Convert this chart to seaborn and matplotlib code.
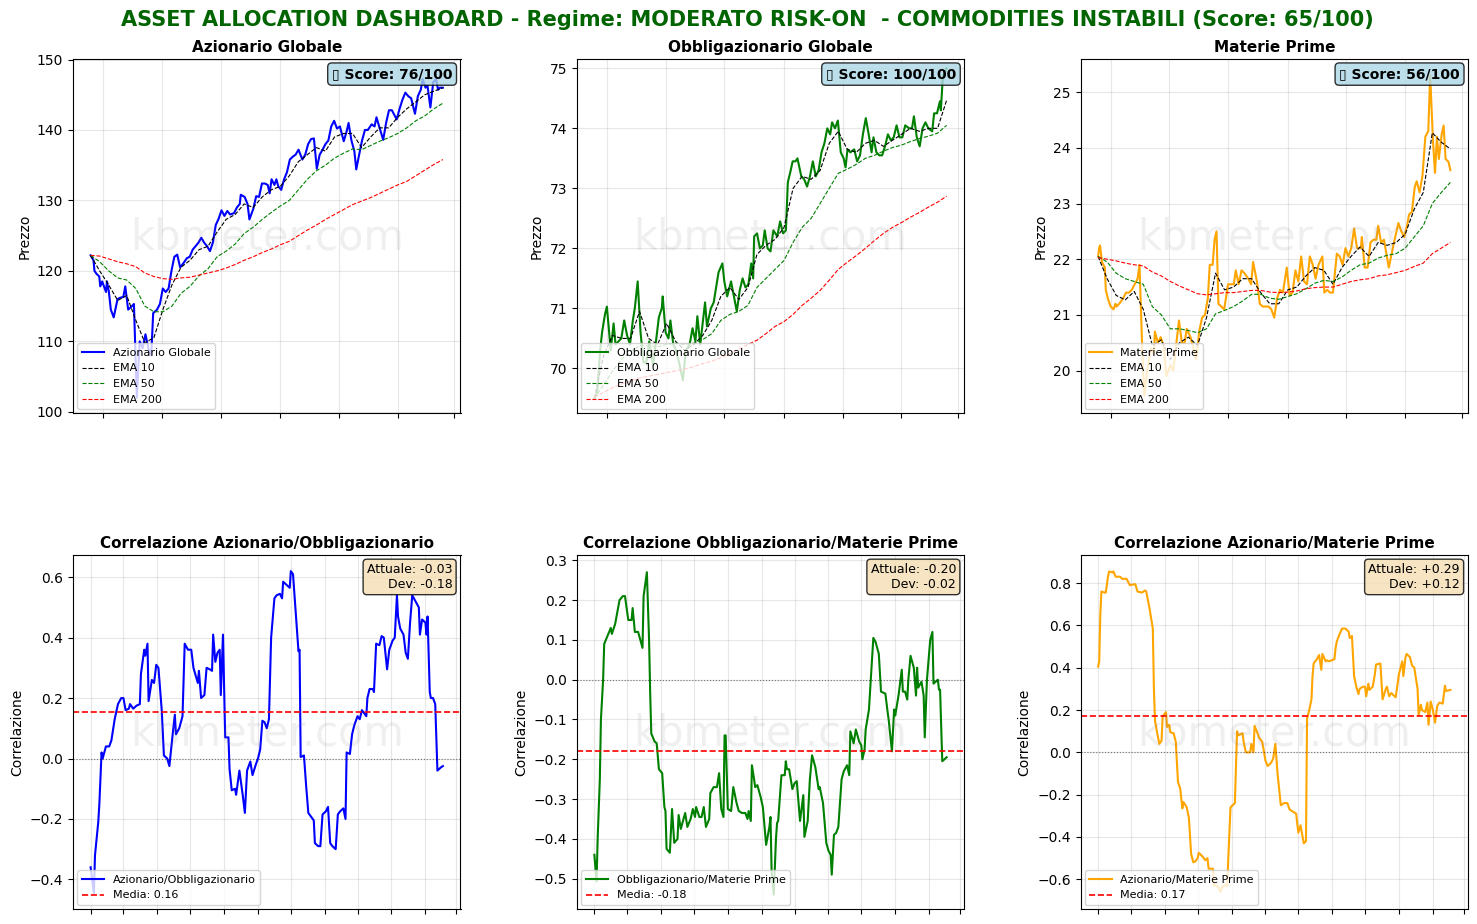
import pandas as pd
import matplotlib
matplotlib.use('Agg')
import matplotlib.pyplot as plt
import matplotlib.dates as mdates
import seaborn as sns

# ==========================================
# 1. DATA
# ==========================================
price_start = '2025-02-16'
price_end = '2026-02-17'
corr_start = '2025-04-01'

az_days = [0,3,4,6,9,10,12,16,17,19,21,24,28,31,34,36,39,43,45,48,51,54,57,60,63,65,69,72,75,78,81,84,87,90,93,96,100,103,106,109,112,115,118,121,124,127,130,133,136,139,142,145,149,152,155,156,160,163,165,169,172,175,178,181,184,186,188,191,193,195,198,201,204,207,210,213,216,220,223,226,229,232,235,238,241,244,247,250,253,256,259,263,266,268,271,274,276,279,282,285,288,292,295,297,300,304,307,310,313,318,321,324,327,330,333,337,340,343,345,348,350,353,356,359,361,363,366]
az_price = [122.2,121.5,120,119.6,119.2,117.8,118.5,117,118.5,117,114.5,113.4,116,116.2,116.3,117.8,114.5,115,115.3,102,110,109,111,109,108,114,114.5,115.3,117.5,117,117.5,120,122,122.3,120.5,121,121.8,122,123,123.5,124,124.7,124,123.5,122.8,124,126.5,127.4,128.6,127.8,128.5,128,128.2,129,129.5,130.8,130.5,129.5,127.3,128.8,130.6,130.5,132.4,132.4,132.2,131,133,132.2,133,132,131.5,133,134,135.8,136.2,136.5,137.2,135.8,136.5,138,138.7,138.8,134.5,136.5,137.2,138,138.5,140.5,141.3,140.2,140.5,138.4,139.8,141,138.5,137,134.4,136.5,138.5,140,140,140.8,140.5,141.8,140.4,138.6,141,142.8,142.8,141.5,143,144.3,145.3,144.8,144.5,142.3,144.8,145.7,147.2,146,146.3,143.2,146.8,147.2,145.7,146,146]
az_ema10 = [122.2,120,118,115.8,116.5,113,109.8,110.5,114.5,118,120.5,121.5,123,123.5,125.5,127.3,128,129.5,129,130.5,131.5,132,133.5,135.5,136.5,137.5,137,139,139.5,139.5,137.5,139,140.3,140.3,141.8,143,144,145,145.5,146]
az_ema50 = [122.2,121.3,120,119,118.7,117.5,115,114.2,114.2,115,116.8,117.8,119.3,120.3,122,122.8,123.8,125.3,126.2,127.3,128.3,129.2,130,131.5,133,134.2,135,136,136.7,137.3,137.2,137.8,138.4,138.9,139.5,140.3,141.3,142,143,143.8]
az_ema200 = [122.2,122.1,121.7,121.3,121,120.6,119.7,119.2,118.9,118.8,119,119.1,119.4,119.7,120,120.4,120.9,121.5,122,122.6,123.1,123.7,124.2,125,125.8,126.5,127.3,128,128.7,129.4,129.9,130.4,131,131.6,132.2,132.7,133.5,134.3,135.1,135.8]

ob_days = [0,3,6,8,11,13,17,20,22,25,28,31,34,37,40,42,45,48,51,54,57,61,64,67,70,71,74,77,79,82,85,88,92,95,99,102,105,107,110,115,117,121,124,127,129,133,135,138,142,145,148,151,154,157,160,163,165,166,169,172,175,177,180,183,186,190,193,196,199,201,204,206,209,211,215,218,221,224,227,230,233,236,239,242,245,247,250,253,256,259,261,263,266,270,273,276,279,282,285,288,290,293,296,299,302,305,308,311,314,317,320,323,327,330,332,335,338,341,344,347,351,353,356,359,360,362,366]
ob_price = [69.5,69.6,70.3,70.6,70.9,71.03,70.3,70.75,70.4,70.45,70.5,70.8,70.55,70.4,70.8,71,71.45,70.6,70.1,70.1,70.45,70.05,70.45,70.85,71,71.2,70.6,70.5,70.8,70.4,70.3,70.1,69.8,70.3,70.4,70.67,70.45,70.87,70.4,71.1,70.7,71,71.1,71.4,71.6,71.75,71.45,71.2,71.45,71.2,70.95,71.3,71.5,71.35,71.4,71.75,71.5,72.2,72.25,72,72.05,72.3,72,71.95,72.3,72.2,72.45,72.25,72.3,73.1,73.3,73.45,73.45,73.5,73.2,73.15,73.03,73.2,73.45,73.2,73.3,73.6,73.75,74,73.9,74.1,74,74.13,73.6,73.5,73.35,73.65,73.6,73.65,73.45,73.55,73.9,74.17,73.9,73.6,73.85,73.6,73.55,73.55,73.7,73.9,73.8,73.85,74.05,73.85,73.85,74.05,74,74,74.2,73.85,73.7,74,74.1,74,73.95,74.25,74.25,74.45,74.3,74.85,75]
ob_ema10 = [69.5,70.2,70.55,70.5,70.5,70.95,70.5,70.4,70.75,70.45,70.3,70.4,70.55,70.8,71.2,71.35,71.15,71.35,71.9,72.05,72.15,72.35,73,73.2,73.15,73.3,73.75,73.95,73.65,73.6,73.75,73.8,73.7,73.8,73.9,74,73.95,74,74,74.47]
ob_ema50 = [69.5,69.72,69.95,70.15,70.28,70.38,70.38,70.36,70.4,70.42,70.4,70.42,70.48,70.58,70.8,70.9,70.95,71.05,71.35,71.5,71.65,71.8,72.1,72.35,72.5,72.75,73.0,73.25,73.32,73.4,73.5,73.55,73.62,73.68,73.72,73.78,73.83,73.87,73.92,74.05]
ob_ema200 = [69.52,69.6,69.68,69.74,69.79,69.84,69.87,69.9,69.93,69.96,69.99,70.03,70.08,70.12,70.18,70.24,70.32,70.4,70.47,70.58,70.7,70.78,70.9,71.05,71.17,71.3,71.47,71.65,71.77,71.88,72.0,72.13,72.25,72.35,72.43,72.52,72.6,72.69,72.77,72.87]

mp_days = [0,1,2,4,7,8,10,13,16,18,19,22,26,29,32,35,38,41,43,46,48,51,55,58,59,62,65,68,71,75,78,81,84,87,90,92,96,99,102,105,108,111,114,116,119,121,123,125,128,131,135,138,141,143,146,149,152,156,159,161,165,168,171,174,177,180,183,186,189,192,196,199,202,205,208,211,214,217,220,223,226,229,233,235,238,241,244,248,251,254,257,260,263,266,269,273,274,277,280,283,286,289,291,294,297,300,302,305,308,312,315,318,321,323,326,329,331,334,337,340,343,345,348,350,352,354,357,359,361,364,366]
mp_price = [22.05,22.2,22.25,21.95,21.85,21.45,21.3,21.15,21.1,21.2,21.15,21.2,21.3,21.4,21.4,21.45,21.55,21.65,21.9,20.3,19.55,20,20.4,20.3,20.7,20.5,20.6,20.45,19.9,20.1,20,20.45,20.9,20.5,20.5,20.75,20.6,20.4,20.2,20.7,20.95,21,21.3,21.9,21.9,22.35,22.5,21.2,21.15,21.1,21.55,21.55,21.55,21.8,21.55,21.8,21.75,21.65,21.55,21.95,21.6,21.2,21.15,21.15,21.15,21.1,20.95,21.3,21.45,21.4,21.85,21.35,21.4,21.8,21.6,22.05,21.6,21.55,22.05,21.9,21.65,21.9,22.05,21.4,21.45,21.4,21.4,22.1,22.05,21.9,22.2,22.05,22.2,22.55,22.2,22.2,22.4,21.85,21.85,22.3,22.35,22.35,22.6,22.3,22.35,22.05,21.85,22.1,22.35,22.65,22.5,22.4,22.6,22.8,22.85,23.3,23.4,23.2,23.5,24.2,24.3,25.3,24.1,23.55,24.2,23.8,24.25,24.4,23.8,23.75,23.6]
mp_ema10 = [22.05,21.65,21.35,21.27,21.42,21.1,20.45,20.55,20.2,20.5,20.6,20.45,20.95,21.75,21.45,21.5,21.65,21.65,21.4,21.2,21.2,21.45,21.5,21.7,21.85,21.8,21.55,21.85,22.05,22.22,22.05,22.3,22.25,22.3,22.45,22.9,23.2,24.27,24.1,23.98]
mp_ema50 = [22.05,21.95,21.75,21.65,21.6,21.55,21.15,21.0,20.75,20.75,20.72,20.68,20.75,21.02,21.08,21.15,21.25,21.37,21.37,21.3,21.28,21.33,21.38,21.47,21.57,21.62,21.6,21.68,21.8,21.9,21.93,22.02,22.07,22.1,22.2,22.4,22.6,23.0,23.2,23.38]
mp_ema200 = [22.03,22.0,21.97,21.93,21.9,21.88,21.77,21.7,21.6,21.52,21.45,21.38,21.36,21.38,21.4,21.4,21.42,21.44,21.44,21.41,21.4,21.41,21.43,21.47,21.49,21.5,21.5,21.55,21.6,21.63,21.65,21.7,21.72,21.76,21.8,21.87,21.93,22.1,22.2,22.3]

c1_days = [0,3,4,7,8,10,11,14,17,19,22,25,28,30,32,35,36,39,42,45,46,49,50,52,53,56,58,60,62,65,67,70,72,75,77,78,81,84,86,89,92,94,98,99,101,104,106,109,111,112,114,116,118,119,121,123,126,127,129,132,133,136,139,141,143,146,148,151,153,155,157,159,161,163,165,168,170,173,175,176,179,182,183,185,188,190,191,192,195,197,199,201,204,205,208,210,212,215,217,219,221,224,226,228,231,233,234,237,239,241,244,246,248,252,253,255,258,259,261,264,266,268,271,273,276,278,280,281,283,286,288,290,292,294,297,300,301,303,306,307,308,310,311,313,315,317,320,322]
c1_vals = [-0.36,-0.445,-0.32,-0.21,-0.15,0.02,0.0,0.04,0.04,0.06,0.13,0.18,0.2,0.2,0.16,0.165,0.18,0.165,0.175,0.18,0.28,0.36,0.34,0.38,0.19,0.26,0.25,0.31,0.3,0.16,0.01,0.0,-0.025,0.08,0.145,0.08,0.1,0.14,0.38,0.36,0.36,0.3,0.25,0.29,0.2,0.21,0.3,0.295,0.29,0.41,0.32,0.35,0.36,0.21,0.41,0.07,0.07,-0.035,-0.105,-0.1,-0.12,-0.04,-0.12,-0.18,-0.04,-0.01,-0.055,-0.02,0.0,0.03,0.125,0.12,0.1,0.13,0.4,0.53,0.54,0.545,0.53,0.585,0.575,0.565,0.62,0.61,0.46,0.355,0.36,0.005,0.01,-0.09,-0.18,-0.19,-0.205,-0.28,-0.29,-0.29,-0.185,-0.175,-0.16,-0.28,-0.29,-0.3,-0.185,-0.175,-0.165,-0.2,0.02,0.015,0.08,0.11,0.14,0.13,0.16,0.14,0.2,0.23,0.23,0.22,0.38,0.375,0.405,0.4,0.295,0.36,0.39,0.4,0.54,0.47,0.43,0.41,0.35,0.33,0.45,0.54,0.52,0.5,0.41,0.46,0.45,0.41,0.47,0.22,0.2,0.2,0.18,-0.04,-0.03,-0.025]

c2_days = [0,2,3,5,6,8,9,12,15,16,19,21,23,26,28,29,31,34,35,37,40,42,44,45,48,50,51,52,55,57,59,62,64,65,66,69,71,73,76,77,79,81,83,85,88,90,92,93,96,98,100,102,105,106,109,112,114,116,118,119,120,122,125,127,130,132,135,138,140,141,143,144,146,147,149,152,154,157,160,161,162,164,166,167,168,171,174,175,176,178,181,183,185,188,191,192,195,197,199,202,205,206,209,212,214,216,217,219,221,223,224,226,228,231,233,234,237,239,242,244,245,247,248,251,255,257,260,262,266,268,269,272,274,275,278,281,282,284,286,287,289,292,294,295,296,299,301,302,304,307,309,310,312,314,315,316,318,322]
c2_vals = [-0.44,-0.507,-0.4,-0.25,-0.1,0.0,0.09,0.11,0.13,0.115,0.14,0.17,0.2,0.21,0.21,0.19,0.15,0.15,0.18,0.12,0.12,0.1,0.08,0.21,0.27,0.1,-0.03,-0.135,-0.155,-0.16,-0.225,-0.235,-0.32,-0.33,-0.425,-0.435,-0.325,-0.41,-0.4,-0.34,-0.375,-0.355,-0.335,-0.37,-0.35,-0.325,-0.345,-0.32,-0.345,-0.345,-0.32,-0.37,-0.35,-0.285,-0.27,-0.27,-0.235,-0.325,-0.345,-0.14,-0.14,-0.325,-0.33,-0.27,-0.31,-0.33,-0.335,-0.335,-0.35,-0.33,-0.355,-0.215,-0.25,-0.27,-0.265,-0.295,-0.32,-0.415,-0.37,-0.345,-0.48,-0.54,-0.4,-0.36,-0.355,-0.24,-0.24,-0.205,-0.225,-0.225,-0.275,-0.26,-0.255,-0.355,-0.29,-0.395,-0.355,-0.25,-0.19,-0.22,-0.275,-0.27,-0.31,-0.41,-0.43,-0.44,-0.49,-0.39,-0.385,-0.37,-0.33,-0.25,-0.23,-0.215,-0.24,-0.13,-0.16,-0.125,-0.155,-0.165,-0.2,-0.175,-0.125,-0.075,0.105,0.095,0.065,-0.03,-0.035,-0.08,-0.1,-0.18,-0.075,-0.09,-0.04,0.025,-0.03,-0.03,-0.05,0.0,0.06,0.03,-0.04,0.03,-0.02,-0.005,-0.04,-0.145,0.0,0.1,0.12,-0.01,-0.005,0.0,-0.025,-0.025,-0.205,-0.195]

c3_days = [0,1,2,3,6,7,9,10,13,14,16,20,22,26,29,34,36,40,43,44,47,50,51,52,54,56,58,59,62,63,65,66,69,71,73,75,77,78,81,83,85,87,89,91,92,95,98,100,101,105,106,109,112,114,118,119,121,125,127,128,132,133,135,139,140,142,143,145,147,150,153,155,158,160,162,164,167,170,173,175,178,181,183,185,188,190,191,193,195,196,197,200,202,204,205,208,209,211,216,217,218,220,223,226,229,230,232,234,236,238,239,242,244,245,247,248,251,253,254,258,260,263,264,266,268,272,275,278,279,281,282,285,287,289,292,293,295,296,299,301,302,304,306,308,310,312,315,317,318,322]
c3_vals = [0.405,0.43,0.65,0.76,0.755,0.755,0.83,0.855,0.85,0.855,0.83,0.83,0.82,0.82,0.79,0.795,0.76,0.755,0.765,0.76,0.68,0.585,0.3,0.15,0.09,0.04,0.055,0.17,0.19,0.12,0.13,0.095,0.09,0.05,-0.14,-0.17,-0.265,-0.235,-0.26,-0.31,-0.48,-0.52,-0.515,-0.5,-0.475,-0.49,-0.51,-0.5,-0.55,-0.55,-0.63,-0.63,-0.66,-0.63,-0.63,-0.5,-0.26,-0.24,0.1,0.08,0.09,0.05,0.0,0.0,0.04,0.0,0.125,0.1,0.07,0.05,-0.04,-0.065,-0.05,-0.03,0.04,-0.1,-0.25,-0.24,-0.24,-0.27,-0.28,-0.29,-0.38,-0.345,-0.43,-0.42,0.16,0.2,0.25,0.36,0.42,0.44,0.46,0.39,0.465,0.43,0.435,0.43,0.44,0.49,0.52,0.55,0.585,0.585,0.57,0.54,0.55,0.36,0.31,0.275,0.3,0.31,0.31,0.265,0.325,0.295,0.31,0.37,0.415,0.42,0.25,0.3,0.31,0.265,0.28,0.26,0.37,0.43,0.36,0.45,0.465,0.45,0.41,0.4,0.3,0.175,0.225,0.2,0.19,0.235,0.13,0.24,0.2,0.14,0.22,0.235,0.23,0.315,0.29,0.295]

price_titles = ['Azionario Globale', 'Obbligazionario Globale', 'Materie Prime']
price_days = [az_days, ob_days, mp_days]
price_vals = [az_price, ob_price, mp_price]
ema_vals = [[az_ema10, az_ema50, az_ema200], [ob_ema10, ob_ema50, ob_ema200], [mp_ema10, mp_ema50, mp_ema200]]
scores = [76, 100, 56]
price_ylims = [(99.76, 150.03), (69.25, 75.15), (19.23, 25.59)]

corr_names = ['Azionario/Obbligazionario', 'Obbligazionario/Materie Prime', 'Azionario/Materie Prime']
corr_days = [c1_days, c2_days, c3_days]
corr_vals = [c1_vals, c2_vals, c3_vals]
corr_means = [0.155, -0.18, 0.171]
corr_now = ['-0.03', '-0.20', '+0.29']
corr_dev = ['-0.18', '-0.02', '+0.12']
corr_ylims = [(-0.499, 0.673), (-0.577, 0.313), (-0.742, 0.932)]
colors = ['blue', 'green', 'orange']
ema_labels = ['EMA 10', 'EMA 50', 'EMA 200']
ema_colors = ['black', 'green', 'red']

# ==========================================
# 2. FIGURE
# ==========================================
fig, axes = plt.subplots(2, 3, figsize=(14.77, 9.24), dpi=100)
fig.subplots_adjust(left=73/1477, right=1468/1477, top=1-59.3/924, bottom=1-909.3/924, wspace=0.3, hspace=0.4)
fig.suptitle('ASSET ALLOCATION DASHBOARD - Regime: MODERATO RISK-ON  - COMMODITIES INSTABILI (Score: 65/100)',
             fontsize=15, fontweight='bold', color='darkgreen', x=747.5/1477, y=1-20.5/924, va='center')


def finish_axes(ax, title, ylabel):
    ax.set_title(title, fontsize=11, fontweight='bold', pad=5)
    ax.set_ylabel(ylabel)
    ax.set_xlabel('')
    ax.grid(True, alpha=0.3)
    ax.tick_params(axis='x', labelbottom=False)
    ax.text(0.5, 0.497, 'kbmeter.com', transform=ax.transAxes, fontsize=30, color='gray',
            alpha=0.12, ha='center', va='center')


# Prices with their EMAs
for i in range(3):
    ax = axes[0, i]
    dates = pd.Timestamp(price_start) + pd.to_timedelta(price_days[i], unit='D')
    sns.lineplot(x=dates, y=price_vals[i], ax=ax, color=colors[i], linewidth=1.5,
                 label=price_titles[i], estimator=None)
    for vals, lab, col in zip(ema_vals[i], ema_labels, ema_colors):
        ema_dates = pd.date_range(price_start, price_end, periods=len(vals))
        sns.lineplot(x=ema_dates, y=vals, ax=ax, color=col, linewidth=0.8, linestyle='--',
                     label=lab, estimator=None)
    ax.set_ylim(price_ylims[i])
    ax.xaxis.set_major_locator(mdates.MonthLocator(bymonth=[1, 3, 5, 7, 9, 11]))
    finish_axes(ax, price_titles[i], 'Prezzo')
    ax.legend(loc='lower left', fontsize=8, borderaxespad=0.4)
    # no installed font has the target emoji, the reference shows it as an empty box
    ax.text(0.979, 0.978, f'\u25af Score: {scores[i]}/100', transform=ax.transAxes, fontsize=10,
            fontweight='bold', ha='right', va='top',
            bbox=dict(boxstyle='round', facecolor='lightblue', alpha=0.8))

# Rolling correlations
for i in range(3):
    ax = axes[1, i]
    dates = pd.Timestamp(corr_start) + pd.to_timedelta(corr_days[i], unit='D')
    sns.lineplot(x=dates, y=corr_vals[i], ax=ax, color=colors[i], linewidth=1.5,
                 label=corr_names[i], estimator=None)
    ax.axhline(corr_means[i], color='red', linestyle='--', linewidth=1.2,
               label=f'Media: {round(corr_means[i] + 0.0001, 2):.2f}')
    ax.axhline(0, color='black', linestyle=':', linewidth=0.8, alpha=0.5)
    ax.set_ylim(corr_ylims[i])
    ax.xaxis.set_major_locator(mdates.MonthLocator())
    finish_axes(ax, 'Correlazione ' + corr_names[i], 'Correlazione')
    ax.legend(loc='lower left', fontsize=8, borderaxespad=0.4)
    ax.text(0.979, 0.978, f'Attuale: {corr_now[i]}\nDev: {corr_dev[i]}', transform=ax.transAxes,
            fontsize=9, ha='right', va='top',
            bbox=dict(boxstyle='round', facecolor='wheat', alpha=0.8))

fig.savefig('out.png', dpi=100)
